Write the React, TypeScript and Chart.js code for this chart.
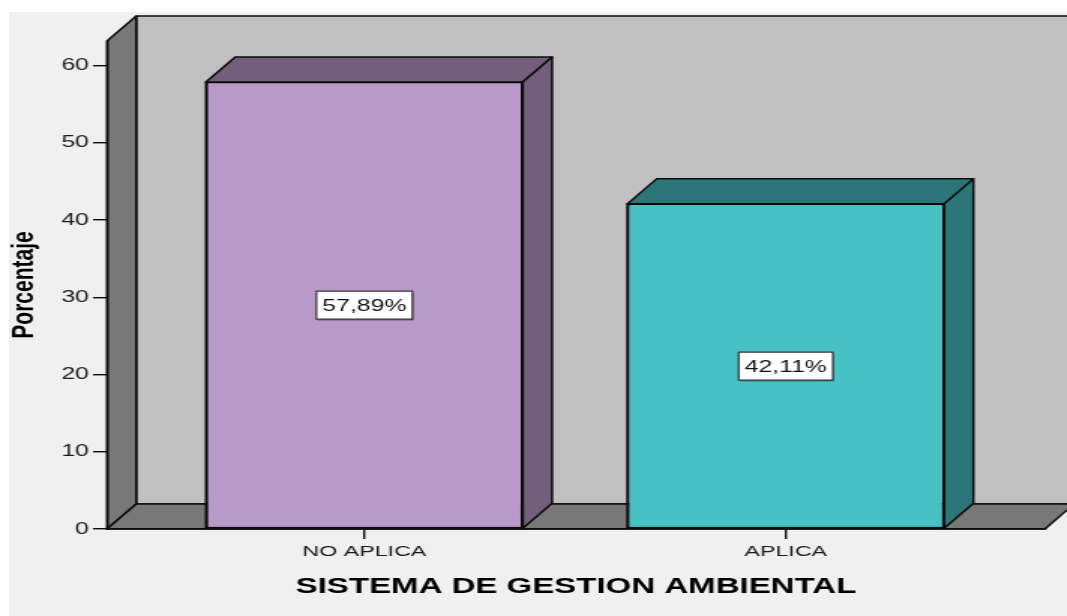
import React, { useEffect, useRef } from 'react';
import { Chart, registerables } from 'chart.js';

Chart.register(...registerables);

// ---- data ----
const categories = ['NO APLICA', 'APLICA'];
const percentages = [57.89, 42.11];
const frontColors = ['#b899c8', '#48c1c6'];
const sideColors = ['#735f7b', '#2b7678'];
const yStep = 10;
const yMax = 63.2;
const xTitle = 'SISTEMA DE GESTION AMBIENTAL';
const yTitle = 'Porcentaje';

// ---- layout / style ----
const W = 705;
const H = 604;
const CSS_W = 1058;
const DX = 19.5;
const DY = 25;
const FONT = '"Liberation Sans", Arial, Helvetica, sans-serif';

type Pt = [number, number];

function poly(ctx: CanvasRenderingContext2D, pts: Pt[], fill: string, lw = 1.5) {
  ctx.beginPath();
  ctx.moveTo(pts[0][0], pts[0][1]);
  for (let i = 1; i < pts.length; i++) ctx.lineTo(pts[i][0], pts[i][1]);
  ctx.closePath();
  ctx.fillStyle = fill;
  ctx.fill();
  ctx.lineWidth = lw;
  ctx.strokeStyle = '#0a0a0a';
  ctx.lineJoin = 'round';
  ctx.stroke();
}

const wallsPlugin = {
  id: 'walls3d',
  beforeDraw(chart: any) {
    const { ctx, chartArea } = chart;
    const { left: L, right: R, top: T, bottom: B } = chartArea;
    ctx.save();
    poly(ctx, [[L + DX, T - DY], [R + DX, T - DY], [R + DX, B - DY], [L + DX, B - DY]], '#c0c0c0');
    poly(ctx, [[L, T], [L + DX, T - DY], [L + DX, B - DY], [L, B]], '#787878');
    poly(ctx, [[L, B], [L + DX, B - DY], [R + DX, B - DY], [R, B]], '#787878');
    ctx.restore();
  },
};

const barsPlugin = {
  id: 'bars3d',
  afterDatasetsDraw(chart: any) {
    const { ctx } = chart;
    const meta = chart.getDatasetMeta(0);
    ctx.save();
    meta.data.forEach((bar: any, i: number) => {
      const { x, y, base, width } = bar.getProps(['x', 'y', 'base', 'width'], true);
      const l = x - width / 2;
      const r = x + width / 2;
      // front outline (drawn crisp over the library's bar)
      ctx.lineWidth = 1.5;
      ctx.strokeStyle = '#0a0a0a';
      ctx.strokeRect(l, y, r - l, base - y);
      poly(ctx, [[l, y], [l + DX, y - DY], [r + DX, y - DY], [r, y]], sideColors[i]);
      poly(ctx, [[r, y], [r + DX, y - DY], [r + DX, base - DY], [r, base]], sideColors[i]);

      const txt = percentages[i].toFixed(2).replace('.', ',') + '%';
      ctx.font = `16.5px ${FONT}`;
      const tw = ctx.measureText(txt).width;
      const bw = tw + 8;
      const bh = 28;
      const cy = (y + base) / 2;
      ctx.fillStyle = 'rgba(0,0,0,0.3)';
      ctx.fillRect(x - bw / 2 + 0.8, cy - bh / 2 + 1.5, bw, bh);
      ctx.fillStyle = '#ffffff';
      ctx.fillRect(x - bw / 2, cy - bh / 2, bw, bh);
      ctx.strokeStyle = '#333';
      ctx.lineWidth = 1.2;
      ctx.strokeRect(x - bw / 2, cy - bh / 2, bw, bh);
      ctx.fillStyle = '#111';
      ctx.textAlign = 'center';
      ctx.textBaseline = 'middle';
      ctx.fillText(txt, x, cy + 1);
    });
    ctx.restore();
  },
};

export default function App() {
  const ref = useRef<HTMLCanvasElement | null>(null);

  useEffect(() => {
    if (!ref.current) return;
    const chart = new Chart(ref.current, {
      type: 'bar',
      data: {
        datasets: [
          {
            data: categories.map((_, i) => ({ x: i, y: percentages[i] })),
            backgroundColor: frontColors,
            borderColor: '#0a0a0a',
            borderWidth: 1.5,
            borderSkipped: false,
            categoryPercentage: 1,
            barPercentage: 0.752,
          } as any,
        ],
      },
      options: {
        responsive: false,
        animation: false,
        devicePixelRatio: 1,
        layout: { padding: { top: 29, right: W - 690.3, left: 0, bottom: 0 } },
        plugins: { legend: { display: false }, tooltip: { enabled: false } },
        scales: {
          x: {
            type: 'linear',
            min: -0.611,
            max: 1.615,
            offset: false,
            afterBuildTicks: (scale: any) => {
              scale.ticks = categories.map((_, i) => ({ value: i }));
            },
            afterFit: (scale: any) => {
              scale.height = 87;
            },
            ticks: {
              callback: (v: any) => categories[v as number] ?? '',
              font: { family: FONT, size: 15.5 },
              color: '#1a1a1a',
              padding: 3,
              autoSkip: false,
              maxRotation: 0,
            },
            grid: { offset: false, drawOnChartArea: false, drawTicks: true, tickLength: 10, color: '#0a0a0a', lineWidth: 1.4 },
            border: { display: true, color: '#0a0a0a', width: 1.5 },
            title: {
              display: true,
              text: xTitle,
              color: '#000',
              font: { family: FONT, size: 22, weight: 'bold', lineHeight: 1 },
              padding: { top: 0, bottom: 18 },
            },
          },
          y: {
            min: 0,
            max: yMax,
            afterFit: (scale: any) => {
              scale.width = 65.3;
            },
            ticks: {
              stepSize: yStep,
              includeBounds: false,
              font: { family: FONT, size: 16.5 },
              color: '#1a1a1a',
              padding: 2.7,
            },
            grid: { drawOnChartArea: false, drawTicks: true, tickLength: 9.3, color: '#0a0a0a', lineWidth: 1.4 },
            border: { display: true, color: '#0a0a0a', width: 1.5 },
            title: {
              display: true,
              text: yTitle,
              color: '#000',
              font: { family: FONT, size: 21, weight: 'bold', lineHeight: 1 },
              padding: { top: 0, bottom: 0 },
            },
          },
        },
      } as any,
      plugins: [wallsPlugin, barsPlugin],
    });
    return () => chart.destroy();
  }, []);

  return (
    <div style={{ position: 'fixed', left: 9, top: 12 }}>
      <canvas
        ref={ref}
        width={W}
        height={H}
        style={{ width: `${CSS_W}px`, height: `${H}px`, background: '#f0f0f0', display: 'block' }}
      />
    </div>
  );
}
